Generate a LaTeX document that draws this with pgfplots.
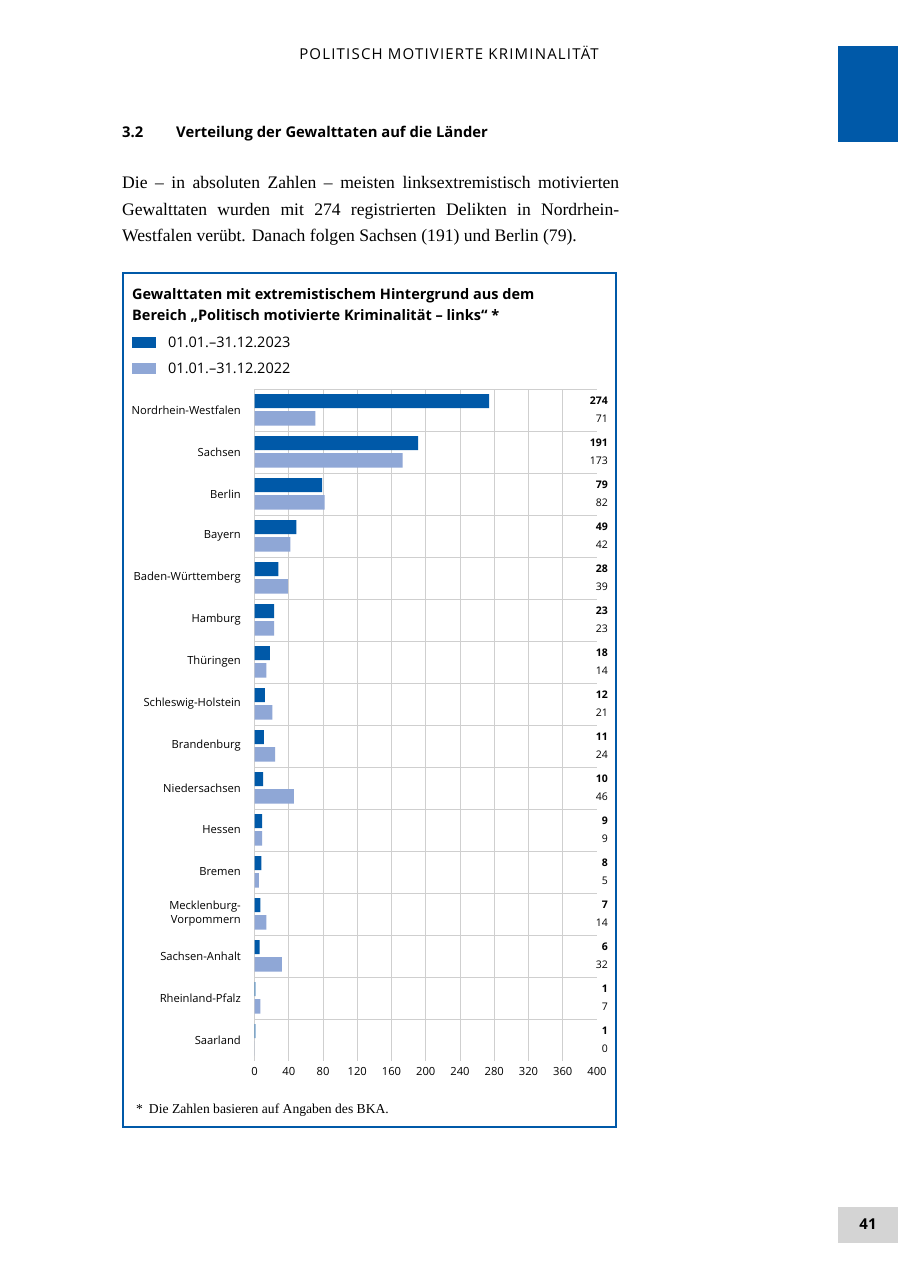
\documentclass[border=0pt]{standalone}
\usepackage{pgfplots}
\pgfplotsset{compat=1.18}
\usepackage{pgfplotstable}
\usepackage{fontspec}
\setmainfont{Liberation Serif}
\setsansfont{Open Sans}

\definecolor{bundblue}{HTML}{0059A8}
\definecolor{lightblue}{HTML}{8FA7D6}
\definecolor{gridgray}{HTML}{CFCFCF}

% idx: 0 = top row
\pgfplotstableread{
idx v23 v22
0 274 71
1 191 173
2 79 82
3 49 42
4 28 39
5 23 23
6 18 14
7 12 21
8 11 24
9 10 46
10 9 9
11 8 5
12 7 14
13 6 32
14 1 7
15 1 0
}\laender

\begin{document}
\begin{tikzpicture}[x=1pt,y=-1pt]
\useasboundingbox (0,0) rectangle (900,1276);
\fill[white] (0,0) rectangle (900,1276);

% page decorations
\fill[bundblue] (838,46) rectangle (898,142);
\fill[black!17] (838,1207) rectangle (898,1243);
\node[font=\sffamily\bfseries\fontsize{15}{17}\selectfont] at (868,1224) {41};

\node[anchor=base, inner sep=0pt, font=\sffamily\fontsize{15}{18}\selectfont\addfontfeature{LetterSpace=8}]
  at (449,60) {POLITISCH MOTIVIERTE KRIMINALITÄT};

\node[anchor=base west, inner sep=0pt, font=\sffamily\bfseries\fontsize{14.8}{19}\selectfont]
  at (122,138) {3.2};
\node[anchor=base west, inner sep=0pt, font=\sffamily\bfseries\fontsize{14.8}{19}\selectfont]
  at (176,138) {Verteilung der Gewalttaten auf die Länder};

\begin{scope}[font=\rmfamily\fontsize{17.6}{26}\selectfont]
\node[anchor=base west, inner sep=0pt] at (122,189)
  {\makebox[497pt][s]{Die – in absoluten Zahlen – meisten linksextremistisch motivierten}};
\node[anchor=base west, inner sep=0pt] at (122,215)
  {\makebox[497pt][s]{Gewalttaten wurden mit 274 registrierten Delikten in Nordrhein-}};
\node[anchor=base west, inner sep=0pt] at (122,241)
  {Westfalen verübt. Danach folgen Sachsen (191) und Berlin (79).};
\end{scope}

% chart frame
\draw[bundblue, line width=2.2pt] (123,273) rectangle (616,1127);

\node[anchor=base west, inner sep=0pt, font=\sffamily\bfseries\fontsize{14.5}{18}\selectfont]
  at (132,299) {Gewalttaten mit extremistischem Hintergrund aus dem};
\node[anchor=base west, inner sep=0pt, font=\sffamily\bfseries\fontsize{14.5}{18}\selectfont]
  at (132,320) {Bereich „Politisch motivierte Kriminalität – links“ *};

\fill[bundblue] (132,337) rectangle (156,348);
\fill[lightblue] (132,363) rectangle (156,374);
\node[anchor=base west, inner sep=0pt, font=\sffamily\fontsize{14.5}{17}\selectfont]
  at (168,347) {01.01.–31.12.2023};
\node[anchor=base west, inner sep=0pt, font=\sffamily\fontsize{14.5}{17}\selectfont]
  at (168,373) {01.01.–31.12.2022};

\node[anchor=base west, inner sep=0pt, font=\rmfamily\fontsize{13.6}{16}\selectfont]
  at (136,1113) {*\hspace{6pt}Die Zahlen basieren auf Angaben des BKA.};

\begin{axis}[
  at={(254.5pt,-389pt)}, anchor=north west,
  scale only axis, width=342.5pt, height=672pt,
  xmin=0, xmax=400, ymin=-0.5, ymax=15.5,
  y dir=reverse,
  clip=false,
  axis line style={draw=none},
  major tick length=0pt, minor tick length=0pt,
  xtick={0,40,...,400},
  minor xtick={0,40,...,360},
  xminorgrids=true,
  ytick={0,...,15},
  yticklabels={Nordrhein-Westfalen, Sachsen, Berlin, Bayern, Baden-Württemberg,
    Hamburg, Thüringen, Schleswig-Holstein, Brandenburg, Niedersachsen, Hessen,
    Bremen, {Mecklenburg-\\Vorpommern}, Sachsen-Anhalt, Rheinland-Pfalz, Saarland},
  minor ytick={-0.5,0.5,...,14.5},
  yminorgrids=true,
  minor grid style={gridgray, line width=0.9pt},
  /pgf/number format/assume math mode=true,
  ticklabel style={font=\sffamily\fontsize{11.2}{14}\selectfont},
  yticklabel style={inner sep=0pt, xshift=-13.5pt, align=right},
  xticklabel style={inner sep=0pt, yshift=-6pt},
  every node near coord/.append style={anchor=east, inner sep=0pt,
    font=\sffamily\fontsize{10.5}{13}\selectfont},
]
\addplot[xbar, bar width=14pt, bar shift=0pt, draw=none, fill=bundblue]
  table[x=v23, y expr=\thisrow{idx}-0.214] {\laender};
\addplot[xbar, bar width=14.5pt, bar shift=0pt, draw=none, fill=lightblue]
  table[x=v22, y expr=\thisrow{idx}+0.2] {\laender};
\addplot[draw=none, mark=none, point meta=explicit symbolic,
  nodes near coords={\bfseries\pgfplotspointmeta}]
  table[x expr=412.8, y expr=\thisrow{idx}-0.214, meta=v23] {\laender};
\addplot[draw=none, mark=none, point meta=explicit symbolic,
  nodes near coords={\pgfplotspointmeta}]
  table[x expr=412.8, y expr=\thisrow{idx}+0.2, meta=v22] {\laender};
\end{axis}
\end{tikzpicture}
\end{document}
